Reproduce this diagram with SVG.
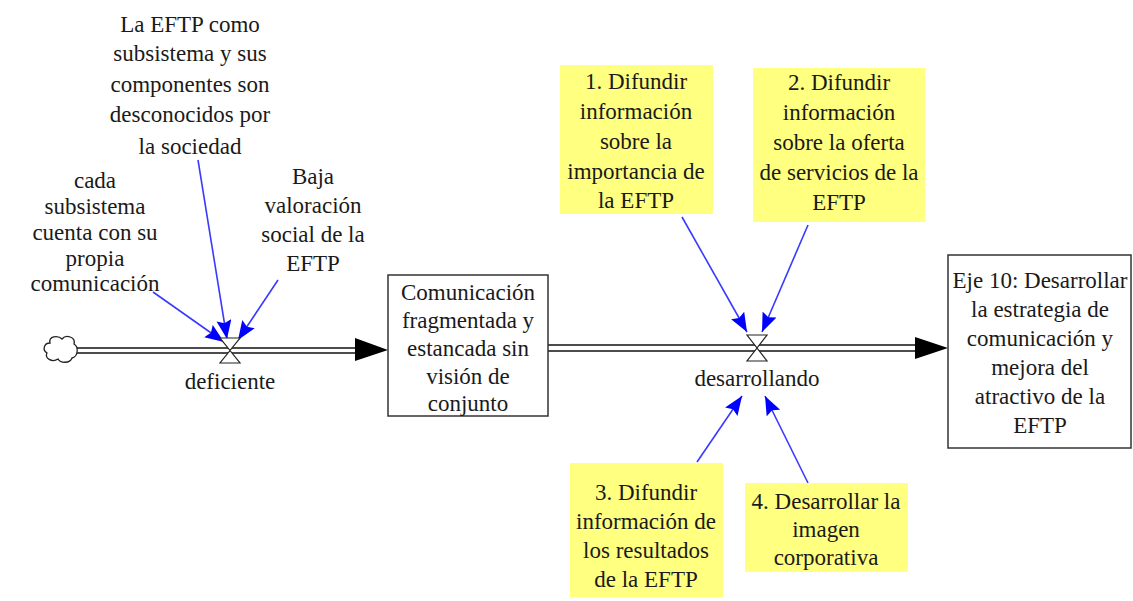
<svg xmlns="http://www.w3.org/2000/svg" width="1133" height="601" viewBox="0 0 1133 601">
<style>
text{font-family:"Liberation Serif","DejaVu Serif",serif;font-size:23px;fill:#1a1a1a;text-anchor:middle}
.box{fill:#fff;stroke:#333;stroke-width:1.5}
.yel{fill:#ffff80;stroke:none}
.pipe{stroke:#111;stroke-width:1.5;fill:none}
.valve{fill:#fff;stroke:#222;stroke-width:1.2}
.inf{stroke:#3a3aff;stroke-width:1.6;fill:none;marker-end:url(#blue)}
</style>
<defs>
<marker id="blue" markerUnits="userSpaceOnUse" markerWidth="22" markerHeight="16" refX="19" refY="7.5" orient="auto">
<path d="M0,0 L19,7.5 L0,15 L3,7.5 z" fill="#0000ff"/>
</marker>
</defs>
<g id="connectors">
<line class="pipe" x1="75" y1="348" x2="357" y2="348"/>
<line class="pipe" x1="75" y1="353" x2="357" y2="353"/>
<path d="M355,338 L388,350 L355,361 z" fill="#000"/>
<line class="pipe" x1="548" y1="345" x2="917" y2="345"/>
<line class="pipe" x1="548" y1="351" x2="917" y2="351"/>
<path d="M915,337 L948,348 L915,359 z" fill="#000"/>
<line class="inf" x1="153" y1="292" x2="224" y2="342"/>
<line class="inf" x1="198" y1="160" x2="227" y2="339"/>
<line class="inf" x1="278" y1="280" x2="238" y2="340"/>
<line class="inf" x1="682" y1="217" x2="747" y2="332"/>
<line class="inf" x1="808" y1="225" x2="762" y2="332"/>
<line class="inf" x1="697" y1="462" x2="742" y2="396"/>
<line class="inf" x1="808" y1="483" x2="765" y2="396"/>
</g>
<g id="cloud">
<path d="M50,343 C48,336 58,335 62,339 C66,334 76,337 74,344 C79,347 78,357 72,358 C70,364 60,363 58,359 C52,363 44,358 47,353 C42,350 44,343 50,343 z" fill="#fff" stroke="#222" stroke-width="1.3"/>
</g>
<g id="valve-deficiente">
<path class="valve" d="M220,338 L240,338 L230,350.5 L240,363 L220,363 L230,350.5 z"/>
<text x="230" y="389">deficiente</text>
</g>
<g id="valve-desarrollando">
<path class="valve" d="M747,335 L767,335 L757,348 L767,361 L747,361 L757,348 z"/>
<text x="757" y="386">desarrollando</text>
</g>
<g id="stock-comunicacion">
<rect class="box" x="388" y="275" width="160" height="141"/>
<text x="468" y="300">Comunicación</text>
<text x="468" y="328">fragmentada y</text>
<text x="468" y="356">estancada sin</text>
<text x="468" y="384">visión de</text>
<text x="468" y="411">conjunto</text>
</g>
<g id="stock-eje10">
<rect class="box" x="948" y="255" width="183" height="193"/>
<text x="1040" y="288">Eje 10: Desarrollar</text>
<text x="1040" y="317">la estrategia de</text>
<text x="1040" y="346">comunicación y</text>
<text x="1040" y="375">mejora del</text>
<text x="1040" y="404">atractivo de la</text>
<text x="1040" y="433">EFTP</text>
</g>
<g id="label-cada">
<text x="95" y="188">cada</text>
<text x="95" y="214">subsistema</text>
<text x="95" y="240">cuenta con su</text>
<text x="95" y="266">propia</text>
<text x="95" y="291">comunicación</text>
</g>
<g id="label-la-eftp">
<text x="190" y="32">La EFTP como</text>
<text x="190" y="61">subsistema y sus</text>
<text x="190" y="92">componentes son</text>
<text x="190" y="122">desconocidos por</text>
<text x="190" y="154">la sociedad</text>
</g>
<g id="label-baja">
<text x="313" y="184">Baja</text>
<text x="313" y="213">valoración</text>
<text x="313" y="242">social de la</text>
<text x="313" y="271">EFTP</text>
</g>
<g id="action-1">
<rect class="yel" x="560" y="65" width="153" height="149"/>
<text x="636" y="89">1. Difundir</text>
<text x="636" y="119">información</text>
<text x="636" y="149">sobre la</text>
<text x="636" y="179">importancia de</text>
<text x="636" y="208">la EFTP</text>
</g>
<g id="action-2">
<rect class="yel" x="753" y="68" width="172" height="154"/>
<text x="839" y="90">2. Difundir</text>
<text x="839" y="120">información</text>
<text x="839" y="150">sobre la oferta</text>
<text x="839" y="180">de servicios de la</text>
<text x="839" y="210">EFTP</text>
</g>
<g id="action-3">
<rect class="yel" x="570" y="463" width="153" height="134"/>
<text x="646" y="500">3. Difundir</text>
<text x="646" y="529">información de</text>
<text x="646" y="558">los resultados</text>
<text x="646" y="587">de la EFTP</text>
</g>
<g id="action-4">
<rect class="yel" x="745" y="483" width="163" height="89"/>
<text x="826" y="509">4. Desarrollar la</text>
<text x="826" y="537">imagen</text>
<text x="826" y="565">corporativa</text>
</g>
</svg>
